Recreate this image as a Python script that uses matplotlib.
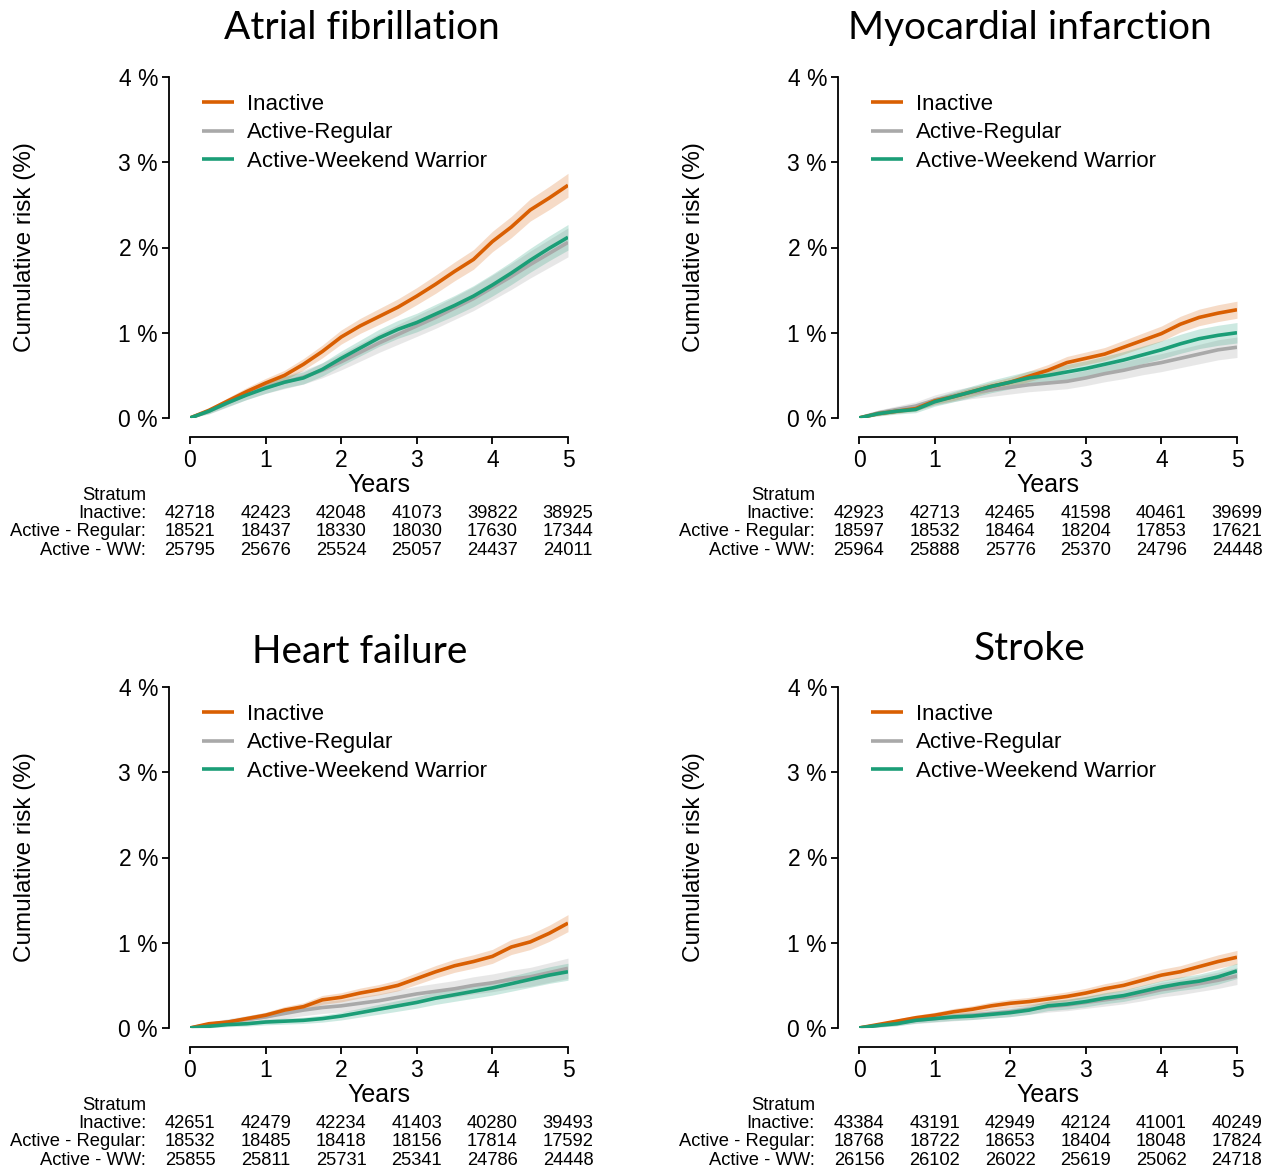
import matplotlib
matplotlib.use("Agg")
import matplotlib.pyplot as plt
import numpy as np
from matplotlib.transforms import offset_copy

# ---------------- data ----------------
years = [0, 0.25, 0.5, 0.75, 1, 1.25, 1.5, 1.75, 2, 2.25, 2.5, 2.75, 3,
         3.25, 3.5, 3.75, 4, 4.25, 4.5, 4.75, 5]
groups = ["Inactive", "Active-Regular", "Active-Weekend Warrior"]
row_labels = ["Inactive:", "Active - Regular:", "Active - WW:"]
titles = ["Atrial fibrillation", "Myocardial infarction", "Heart failure", "Stroke"]
y_ticks = [0, 1, 2, 3, 4]
y_ticklabels = ["0 %", "1 %", "2 %", "3 %", "4 %"]
x_ticks = [0, 1, 2, 3, 4, 5]

# Atrial fibrillation
af_inactive = [0, 0.09, 0.20, 0.31, 0.41, 0.50, 0.63, 0.78, 0.95, 1.08, 1.19, 1.30, 1.43,
               1.57, 1.72, 1.86, 2.07, 2.24, 2.44, 2.58, 2.73]
af_regular = [0, 0.08, 0.18, 0.28, 0.36, 0.42, 0.48, 0.56, 0.66, 0.77, 0.88, 0.98, 1.08,
              1.18, 1.29, 1.40, 1.53, 1.66, 1.80, 1.93, 2.06]
af_ww = [0, 0.08, 0.18, 0.27, 0.35, 0.42, 0.47, 0.57, 0.70, 0.82, 0.94, 1.04, 1.12,
         1.22, 1.32, 1.43, 1.56, 1.70, 1.85, 1.99, 2.12]
af_inactive_ci = [0, .025, .038, .047, .054, .06, .067, .075, .083, .088, .093, .097, .10,
                  .107, .11, .115, .12, .125, .13, .136, .14]
af_regular_ci = [0, .033, .05, .062, .071, .076, .082, .088, .096, .104, .111, .117, .123,
                 .128, .134, .14, .146, .152, .158, .164, .17]
af_ww_ci = [0, .029, .044, .054, .061, .067, .071, .078, .086, .093, .10, .105, .109,
            .114, .118, .123, .129, .134, .14, .145, .15]
af_n_inactive = [42718, 42423, 42048, 41073, 39822, 38925]
af_n_regular = [18521, 18437, 18330, 18030, 17630, 17344]
af_n_ww = [25795, 25676, 25524, 25057, 24437, 24011]

# Myocardial infarction
mi_inactive = [0, 0.05, 0.08, 0.11, 0.20, 0.25, 0.31, 0.37, 0.42, 0.49, 0.56, 0.65, 0.70,
               0.75, 0.83, 0.91, 0.99, 1.10, 1.18, 1.23, 1.27]
mi_regular = [0, 0.06, 0.10, 0.14, 0.21, 0.26, 0.30, 0.33, 0.36, 0.39, 0.41, 0.43, 0.47,
              0.52, 0.56, 0.61, 0.65, 0.70, 0.75, 0.80, 0.83]
mi_ww = [0, 0.05, 0.08, 0.10, 0.19, 0.25, 0.31, 0.37, 0.42, 0.47, 0.50, 0.54, 0.58,
         0.63, 0.68, 0.74, 0.80, 0.87, 0.93, 0.97, 1.00]
mi_inactive_ci = [0, .02, .025, .03, .04, .045, .05, .054, .058, .062, .067, .072, .074,
                  .077, .081, .085, .089, .093, .097, .099, .10]
mi_regular_ci = [0, .032, .042, .049, .06, .067, .072, .076, .079, .082, .085, .087, .09,
                 .095, .099, .103, .106, .11, .114, .118, .12]
mi_ww_ci = [0, .027, .034, .038, .052, .06, .067, .073, .078, .082, .085, .088, .091,
            .095, .099, .103, .107, .112, .116, .118, .12]
mi_n_inactive = [42923, 42713, 42465, 41598, 40461, 39699]
mi_n_regular = [18597, 18532, 18464, 18204, 17853, 17621]
mi_n_ww = [25964, 25888, 25776, 25370, 24796, 24448]

# Heart failure
hf_inactive = [0, 0.05, 0.07, 0.11, 0.15, 0.21, 0.25, 0.33, 0.36, 0.41, 0.45, 0.50, 0.58,
               0.66, 0.73, 0.78, 0.84, 0.95, 1.01, 1.11, 1.23]
hf_regular = [0, 0.04, 0.07, 0.10, 0.13, 0.17, 0.21, 0.24, 0.26, 0.29, 0.32, 0.36, 0.40,
              0.43, 0.46, 0.50, 0.53, 0.57, 0.60, 0.65, 0.70]
hf_ww = [0, 0.02, 0.04, 0.05, 0.07, 0.08, 0.09, 0.11, 0.14, 0.18, 0.22, 0.26, 0.30,
         0.35, 0.39, 0.43, 0.47, 0.52, 0.57, 0.62, 0.66]
hf_inactive_ci = [0, .02, .024, .03, .035, .041, .045, .052, .054, .058, .06, .064, .069,
                  .073, .077, .079, .082, .088, .09, .095, .10]
hf_regular_ci = [0, .029, .038, .045, .052, .059, .066, .07, .073, .077, .081, .086, .09,
                 .094, .097, .101, .104, .108, .111, .115, .12]
hf_ww_ci = [0, .017, .025, .028, .033, .035, .037, .041, .046, .052, .058, .063, .067,
            .073, .077, .081, .084, .089, .093, .097, .10]
hf_n_inactive = [42651, 42479, 42234, 41403, 40280, 39493]
hf_n_regular = [18532, 18485, 18418, 18156, 17814, 17592]
hf_n_ww = [25855, 25811, 25731, 25341, 24786, 24448]

# Stroke
st_inactive = [0, 0.04, 0.08, 0.12, 0.15, 0.19, 0.22, 0.26, 0.29, 0.31, 0.34, 0.37, 0.41,
               0.46, 0.50, 0.56, 0.62, 0.66, 0.72, 0.78, 0.83]
st_regular = [0, 0.03, 0.06, 0.09, 0.11, 0.13, 0.15, 0.17, 0.19, 0.22, 0.25, 0.27, 0.30,
              0.33, 0.36, 0.40, 0.45, 0.48, 0.52, 0.56, 0.61]
st_ww = [0, 0.03, 0.05, 0.09, 0.11, 0.13, 0.14, 0.16, 0.18, 0.21, 0.26, 0.28, 0.31,
         0.35, 0.38, 0.43, 0.48, 0.52, 0.55, 0.60, 0.67]
st_inactive_ci = [0, .018, .025, .03, .034, .038, .041, .045, .047, .049, .051, .054, .056,
                  .06, .062, .066, .069, .071, .075, .078, .08]
st_regular_ci = [0, .022, .031, .038, .042, .046, .05, .053, .056, .06, .064, .067, .07,
                 .074, .077, .081, .086, .089, .092, .096, .10]
st_ww_ci = [0, .019, .025, .033, .036, .04, .041, .044, .047, .05, .056, .058, .061,
            .065, .068, .072, .076, .079, .082, .085, .09]
st_n_inactive = [43384, 43191, 42949, 42124, 41001, 40249]
st_n_regular = [18768, 18722, 18653, 18404, 18048, 17824]
st_n_ww = [26156, 26102, 26022, 25619, 25062, 24718]

# ---------------- style ----------------
line_colors = ["#D95F02", "#A9A9A9", "#1B9E77"]
band_colors = ["#D95F02", "#BDBDBD", "#1B9E77"]
band_alpha = [0.22, 0.35, 0.22]
draw_order = [1, 0, 2]

plt.rcParams["font.family"] = ["Liberation Sans", "DejaVu Sans"]

W, H = 1265, 1167
fig = plt.figure(figsize=(W / 100, H / 100), dpi=100)

# axes boxes in pixels: (x at year 0, y at 0 %)
boxes = [(190, 418), (859, 418), (190, 1028), (859, 1028)]
title_pos = [(362, 28), (1030, 28), (360, 652), (1030, 649)]
AW, AH = 378, 341

panels = [
    ([af_inactive, af_regular, af_ww], [af_inactive_ci, af_regular_ci, af_ww_ci],
     [af_n_inactive, af_n_regular, af_n_ww]),
    ([mi_inactive, mi_regular, mi_ww], [mi_inactive_ci, mi_regular_ci, mi_ww_ci],
     [mi_n_inactive, mi_n_regular, mi_n_ww]),
    ([hf_inactive, hf_regular, hf_ww], [hf_inactive_ci, hf_regular_ci, hf_ww_ci],
     [hf_n_inactive, hf_n_regular, hf_n_ww]),
    ([st_inactive, st_regular, st_ww], [st_inactive_ci, st_regular_ci, st_ww_ci],
     [st_n_inactive, st_n_regular, st_n_ww]),
]

t = np.array(years)
for (x0, y0), (tx, ty), title, (series, cis, counts) in zip(boxes, title_pos, titles, panels):
    ax = fig.add_axes([x0 / W, (H - y0) / H, AW / W, AH / H])
    ax.set_xlim(0, 5)
    ax.set_ylim(0, 4)
    for i in draw_order:
        v = np.array(series[i]); c = np.array(cis[i])
        ax.fill_between(t, v - c, v + c, color=band_colors[i], alpha=band_alpha[i],
                        linewidth=0)
    handles = {}
    for i in draw_order:
        h, = ax.plot(t, series[i], color=line_colors[i], lw=2.6, solid_capstyle="butt")
        handles[i] = h
    leg = ax.legend([handles[0], handles[1], handles[2]], groups, loc="upper left",
                    bbox_to_anchor=(0.033, 0.95), frameon=False, fontsize=16,
                    handlelength=1.4, handletextpad=0.6, labelspacing=0.33,
                    borderpad=0, borderaxespad=0)

    for s in ["top", "right"]:
        ax.spines[s].set_visible(False)
    ax.spines["left"].set_position(("outward", 15))
    ax.spines["bottom"].set_position(("outward", 14))
    ax.spines["left"].set_bounds(0, 4)
    ax.spines["bottom"].set_bounds(0, 5)
    for s in ["left", "bottom"]:
        ax.spines[s].set_linewidth(1.3)
    ax.set_yticks(y_ticks)
    ax.set_yticklabels(y_ticklabels)
    ax.set_xticks(x_ticks)
    ax.tick_params(axis="both", length=5, width=1.3, labelsize=16.5, pad=3)

    # axis labels
    ax.text(0, 0.5, "Cumulative risk (%)", rotation=90, ha="center", va="center",
            fontsize=17.5,
            transform=offset_copy(ax.transAxes, fig=fig, x=-165, y=0, units="dots"))
    ax.text(2.5, 0, "Years", ha="center", va="center", fontsize=18,
            transform=offset_copy(ax.get_xaxis_transform(), fig=fig, x=0, y=-67,
                                  units="dots"))
    # title
    fig.text(tx / W, 1 - ty / H, title, ha="center", va="center", fontsize=28,
             family=["Lato", "DejaVu Sans"])

    # risk table
    ax.text(0, 0, "Stratum", ha="right", va="center", fontsize=13.2,
            transform=offset_copy(ax.get_xaxis_transform(), fig=fig, x=-44, y=-77,
                                  units="dots"))
    for r, (lab, row) in enumerate(zip(row_labels, counts)):
        dy = -(95 + 18.7 * r)
        ax.text(0, 0, lab, ha="right", va="center", fontsize=13.2,
                transform=offset_copy(ax.get_xaxis_transform(), fig=fig, x=-44, y=dy,
                                      units="dots"))
        for xv, n in zip(x_ticks, row):
            ax.text(xv, 0, str(n), ha="center", va="center", fontsize=13.2,
                    transform=offset_copy(ax.get_xaxis_transform(), fig=fig, x=0, y=dy,
                                          units="dots"))

fig.savefig("out.png", dpi=100)
